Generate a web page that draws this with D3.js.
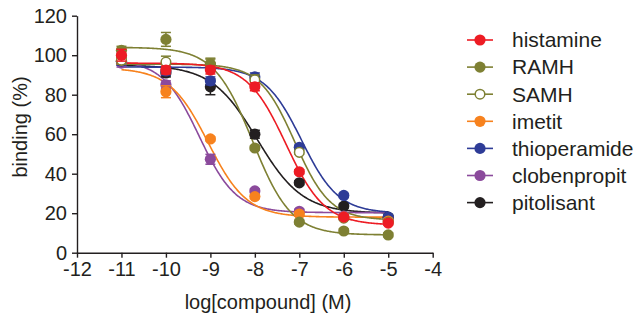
<!DOCTYPE html>
<html>
<head>
<meta charset="utf-8">
<script src="https://cdn.jsdelivr.net/npm/d3@7"></script>
<style>
  html, body { margin: 0; padding: 0; background: #fff; }
  svg { display: block; }
  text { font-family: "Liberation Sans", Arial, Helvetica, sans-serif; fill: #231f20; }
</style>
</head>
<body>
<svg id="chart" width="640" height="327"></svg>
<script>
// ---- data ----
const logConc = [-11, -10, -9, -8, -7, -6, -5];
const seriesNames = ["histamine", "RAMH", "SAMH", "imetit", "thioperamide", "clobenpropit", "pitolisant"];
const seriesColors = ["#ed1c24", "#7e8033", "#7e8033", "#f7821e", "#2e3c97", "#8b4a9c", "#231f20"];
const seriesOpen = [false, false, true, false, false, false, false];

const histamine    = [100, 92.5, 92.5, 84, 41, 18, 15];
const ramh         = [102.5, 108, 95.5, 53, 15.5, 11, 9];
const samh         = [97.5, 96.5, 95.5, 87.5, 50.8, 17.5, 15.5];
const imetit       = [97.5, 81.5, 57.6, 28.4, 19.6, 18, 16];
const thioperamide = [97, 92, 87, 89, 53.4, 29, 18];
const clobenpropit = [96, 85, 47.3, 31.3, 21, 18.5, 16.5];
const pitolisant   = [97, 91, 84, 60, 35.4, 23.6, 18];

const histamineErr    = [3, 2, 2, 2, 1, 1, 1];
const ramhErr         = [2, 3.5, 3, 1, 1, 1, 1];
const samhErr         = [2, 3, 2.5, 2.5, 1, 1, 1];
const imetitErr       = [2, 3, 1, 1, 1, 1, 1];
const thioperamideErr = [2, 2, 2, 2, 1, 1, 1];
const clobenpropitErr = [2, 2, 2.5, 1, 1, 1, 1];
const pitolisantErr   = [2, 2, 4, 2, 1, 1, 1];

// fitted curve parameters (top, bottom, logEC50, Hill slope) per series
const fitTop     = [96, 104, 95.5, 93.5, 94, 97.5, 95];
const fitBottom  = [14, 9, 16.5, 18, 20, 20.3, 20];
const fitLogEC50 = [-7.3, -8.05, -7.1, -9.05, -6.95, -9.25, -7.95];
const fitHill    = [1, 1, 1.1, 1, 1.05, 1.05, 0.85];

const xTicks = [-12, -11, -10, -9, -8, -7, -6, -5, -4];
const yTicks = [0, 20, 40, 60, 80, 100, 120];

const values = [histamine, ramh, samh, imetit, thioperamide, clobenpropit, pitolisant];
const errors = [histamineErr, ramhErr, samhErr, imetitErr, thioperamideErr, clobenpropitErr, pitolisantErr];

// ---- layout ----
const svg = d3.select("#chart");
const x = d3.scaleLinear().domain([-12, -4]).range([77, 432.7]);
const y = d3.scaleLinear().domain([0, 120]).range([252.7, 15.7]);
const axisColor = "#231f20";
const fontSize = 20;

// axes
const xAxis = svg.append("g").attr("transform", `translate(0,${y(0)})`)
  .call(d3.axisBottom(x).tickValues(xTicks).tickSize(5).tickSizeOuter(0).tickPadding(4)
    .tickFormat(d => d3.format("d")(d).replace("−", "-")));
const yAxis = svg.append("g").attr("transform", `translate(${x(-12)},0)`)
  .call(d3.axisLeft(y).tickValues(yTicks).tickSize(5).tickSizeOuter(0).tickPadding(5));
[xAxis, yAxis].forEach(g => {
  g.selectAll("path, line").attr("stroke", axisColor).attr("stroke-width", 1.4);
  g.selectAll("text").attr("font-size", fontSize).attr("fill", axisColor)
    .attr("font-family", "'Liberation Sans', Arial, sans-serif");
});

// axis titles
svg.append("text").attr("x", 268).attr("y", 309).attr("text-anchor", "middle")
  .attr("font-size", fontSize).text("log[compound] (M)");
svg.append("text").attr("transform", `translate(27,127) rotate(-90)`)
  .attr("text-anchor", "middle").attr("font-size", fontSize).text("binding (%)");

// curves and points
function model(i, lx) {
  return fitBottom[i] + (fitTop[i] - fitBottom[i]) / (1 + Math.pow(10, (lx - fitLogEC50[i]) * fitHill[i]));
}
const line = d3.line().x(d => x(d[0])).y(d => y(d[1])).curve(d3.curveLinear);
const order = d3.range(seriesNames.length).reverse(); // first series drawn on top
const plot = svg.append("g");
order.forEach(i => {
  const xs = d3.range(-11, -4.999, 0.02);
  plot.append("path")
    .datum(xs.map(lx => [lx, model(i, lx)]))
    .attr("d", line).attr("fill", "none")
    .attr("stroke", seriesColors[i]).attr("stroke-width", 1.6);
});
order.forEach(i => {
  const g = plot.append("g");
  logConc.forEach((lx, k) => {
    const v = values[i][k], e = errors[i][k];
    const cx = x(lx);
    g.append("line").attr("x1", cx).attr("x2", cx).attr("y1", y(v - e)).attr("y2", y(v + e))
      .attr("stroke", seriesColors[i]).attr("stroke-width", 1.5);
    [v - e, v + e].forEach(t => {
      g.append("line").attr("x1", cx - 5).attr("x2", cx + 5).attr("y1", y(t)).attr("y2", y(t))
        .attr("stroke", seriesColors[i]).attr("stroke-width", 1.5);
    });
    g.append("circle").attr("cx", cx).attr("cy", y(v))
      .attr("r", seriesOpen[i] ? 4.8 : 5.6)
      .attr("fill", seriesOpen[i] ? "#fff" : seriesColors[i])
      .attr("stroke", seriesColors[i]).attr("stroke-width", seriesOpen[i] ? 1.5 : 0);
  });
});

// legend
const legend = svg.append("g");
seriesNames.forEach((name, i) => {
  const ly = 40 + i * 27.1;
  legend.append("line").attr("x1", 467).attr("x2", 493).attr("y1", ly).attr("y2", ly)
    .attr("stroke", seriesColors[i]).attr("stroke-width", 1.6);
  legend.append("circle").attr("cx", 480).attr("cy", ly)
    .attr("r", seriesOpen[i] ? 4.8 : 5.6)
    .attr("fill", seriesOpen[i] ? "#fff" : seriesColors[i])
    .attr("stroke", seriesColors[i]).attr("stroke-width", seriesOpen[i] ? 1.5 : 0);
  legend.append("text").attr("x", 512).attr("y", ly).attr("dy", "0.35em")
    .attr("font-size", 21).text(name);
});
</script>
</body>
</html>
